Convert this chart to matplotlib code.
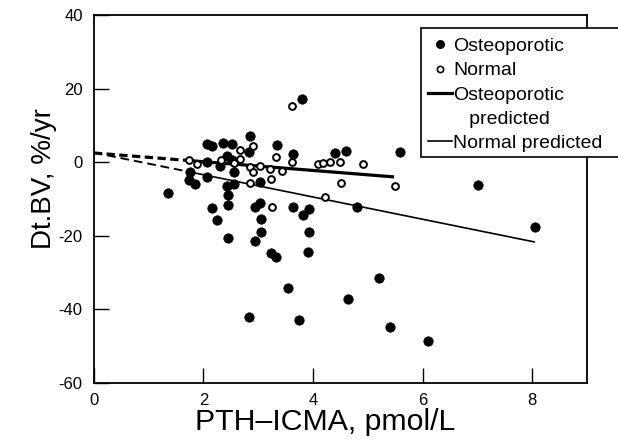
import matplotlib
matplotlib.use("Agg")
import matplotlib.pyplot as plt
from matplotlib.lines import Line2D
from matplotlib.patches import Rectangle

plt.rcParams['font.family'] = ['Liberation Sans', 'DejaVu Sans']
plt.rcParams['axes.unicode_minus'] = False

# Osteoporotic subjects (filled)
ost_x = [1.36, 1.76, 1.74, 1.85, 2.06, 2.15, 2.06, 2.06, 2.16, 2.25,
         2.36, 2.52, 2.43, 2.30, 2.55, 2.43, 2.55, 2.44, 2.44, 2.44,
         2.85, 2.84, 2.52, 3.03, 2.94, 3.03, 3.05, 3.05, 2.95, 3.23,
         3.32, 3.34, 3.64, 3.80, 3.64, 3.93, 3.82, 3.93, 3.91, 3.54,
         4.80, 5.20, 4.63, 2.84, 3.74, 5.41, 6.09, 8.06, 4.41, 4.61,
         5.59, 7.01]
ost_y = [-8.5, -2.7, -4.8, -5.9, 5.0, 4.3, 0.0, -4.1, -12.5, -15.6,
         5.2, 5.0, 1.8, -0.9, -2.7, -6.4, -5.9, -8.8, -11.6, -20.7,
         7.0, 2.7, 0.5, -5.5, -12.1, -11.2, -15.3, -19.1, -21.4, -24.7,
         -25.7, 4.6, 2.1, 17.2, -12.3, -12.7, -14.3, -19.1, -24.3, -34.3,
         -12.3, -31.5, -37.3, -42.1, -43.0, -44.8, -48.6, -17.5, 2.5, 3.0,
         2.7, -6.3]

# Normal subjects (open)
nor_x = [1.74, 1.88, 2.33, 2.55, 2.66, 2.66, 2.91, 2.85, 2.91, 3.03,
         3.22, 3.32, 3.43, 3.23, 2.85, 3.61, 4.10, 4.19, 4.31, 4.49,
         4.91, 4.51, 5.50, 4.22, 3.25, 3.62]
nor_y = [0.7, -0.4, 0.5, -0.3, 3.4, 0.9, 4.3, -1.4, -2.7, -0.9,
         -1.8, 1.4, -2.5, -4.5, -5.7, 0.0, -0.4, -0.3, 0.0, 0.0,
         -0.4, -5.7, -6.4, -9.5, -12.3, 15.2]

# Predicted lines: [x at 0, x where solid begins, x end]
ost_line_x = [0.0, 1.70, 5.48]
ost_line_y = [2.5, 0.5, -4.0]
nor_line_x = [0.0, 1.70, 8.05]
nor_line_y = [2.6, -2.5, -21.7]

xticks = [0, 2, 4, 6, 8]
yticks = [-60, -40, -20, 0, 20, 40]

fig = plt.figure(figsize=(6.18, 4.44), dpi=100)
ax = fig.add_axes([93.8/618, 1-383/444, (587-93.8)/618, (383-15)/444])

# lines
ax.plot(ost_line_x[:2], ost_line_y[:2], color='black', lw=2.3, ls=(0, (2.6, 1.4)), zorder=2)
ax.plot(ost_line_x[1:], ost_line_y[1:], color='black', lw=2.3, zorder=2, solid_capstyle='butt')
ax.plot(nor_line_x[:2], nor_line_y[:2], color='black', lw=1.4, ls=(0, (4.5, 2.5)), zorder=2)
ax.plot(nor_line_x[1:], nor_line_y[1:], color='black', lw=1.2, zorder=2, solid_capstyle='butt')

ax.scatter(ost_x, ost_y, s=46, c='black', edgecolors='black', linewidths=0.5, zorder=3)
ax.scatter(nor_x, nor_y, s=24, facecolors='white', edgecolors='black', linewidths=1.4, zorder=4)

ax.set_xlim(0, 9)
ax.set_ylim(-60, 40)
ax.set_xticks(xticks)
ax.set_yticks(yticks)
ax.tick_params(direction='in', length=10.5, width=1.0, labelsize=12, pad=8, colors='black')
ax.tick_params(axis='x', pad=7)
for s in ax.spines.values():
    s.set_linewidth(1.3)

ax.set_xlabel('PTH\u2013ICMA, pmol/L', fontsize=21.8)
ax.set_ylabel('Dt.BV, %/yr', fontsize=20)
ax.xaxis.set_label_coords(0.469, -0.068)
ax.yaxis.set_label_coords(-0.075, 0.555)

# legend box (extends beyond the axes, covering the right spine)
rect = Rectangle((421/618, 1-157/444), (640-421)/618, (157-27.7)/444,
                 transform=fig.transFigure, facecolor='white', edgecolor='black',
                 lw=1.2, zorder=5)
fig.add_artist(rect)

handles = [
    Line2D([], [], marker='o', ls='none', color='black', markersize=5.5),
    Line2D([], [], marker='o', ls='none', markerfacecolor='white', markeredgecolor='black',
           markeredgewidth=1.2, markersize=4.5),
    Line2D([], [], color='black', lw=2.3),
    Line2D([], [], ls='none'),
    Line2D([], [], color='black', lw=1.2),
]
labels = ['Osteoporotic', 'Normal', 'Osteoporotic', '   predicted', 'Normal predicted']
leg = fig.legend(handles, labels, loc='upper left', bbox_to_anchor=(428/618, 1-37.5/444),
                 bbox_transform=fig.transFigure, frameon=False, fontsize=14,
                 handlelength=1.25, handletextpad=0.06, labelspacing=0.34, borderpad=0,
                 borderaxespad=0)
leg.set_zorder(6)

fig.savefig('out.png', dpi=100)
